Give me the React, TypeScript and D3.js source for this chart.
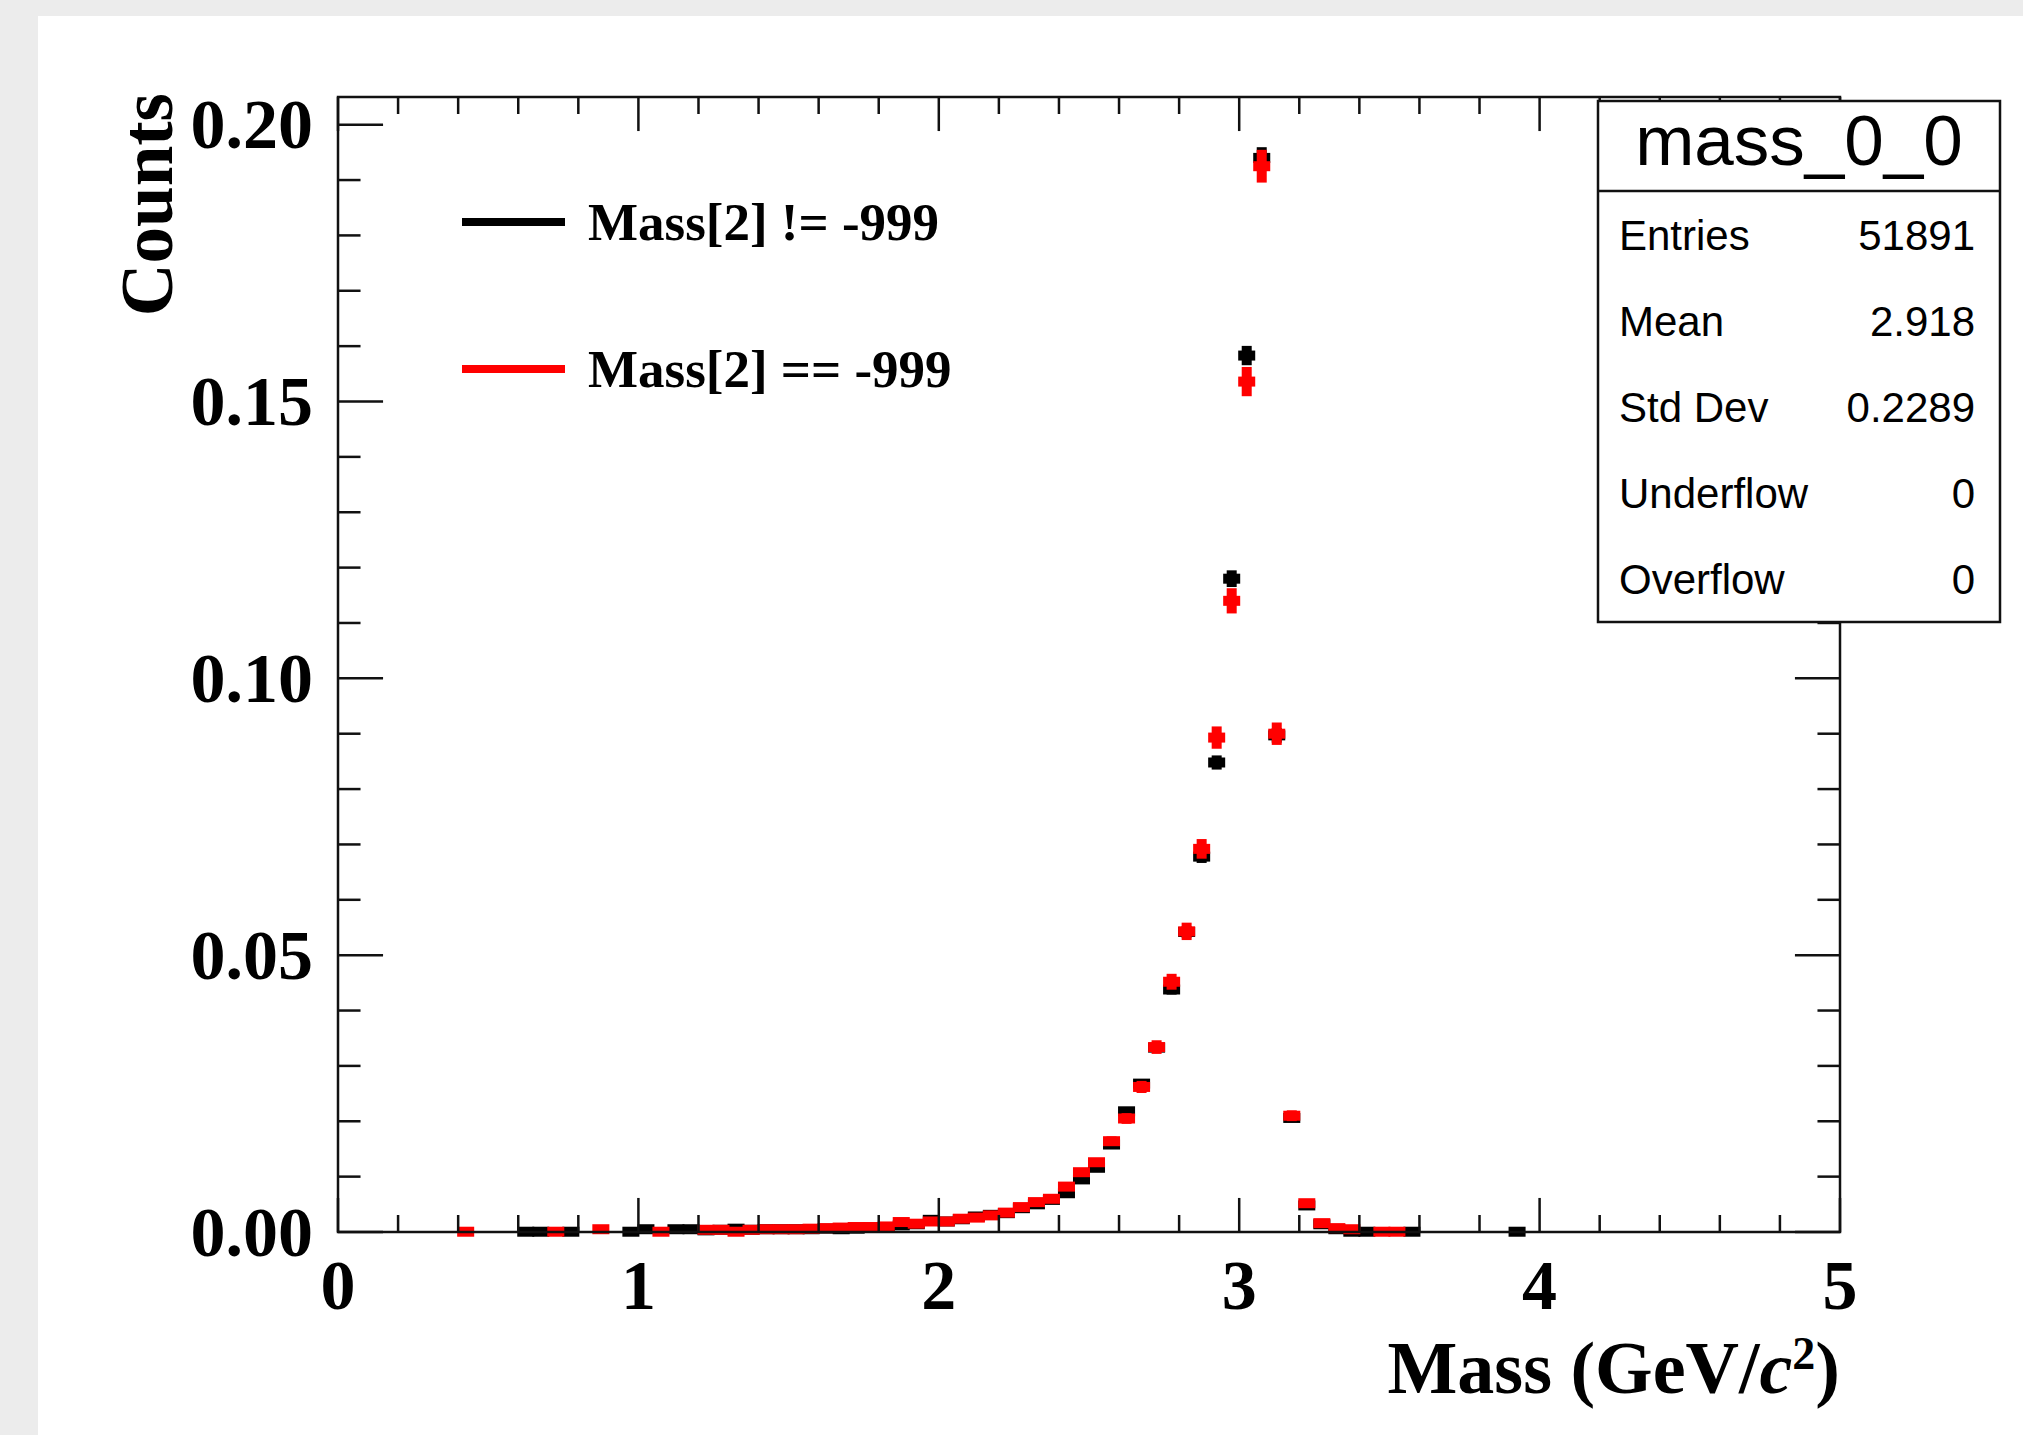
import React from 'react'
import { scaleLinear, format } from 'd3'

// bin centres (GeV/c^2) and normalised contents; bin width 0.05
const blackMass = [
    0.625, 0.675, 0.775, 0.975, 1.025, 1.125, 1.175, 1.225, 1.275, 1.325, 1.375, 1.425,
    1.475, 1.525, 1.575, 1.625, 1.675, 1.725, 1.775, 1.825, 1.875, 1.925, 1.975, 2.025,
    2.075, 2.125, 2.175, 2.225, 2.275, 2.325, 2.375, 2.425, 2.475, 2.525, 2.575, 2.625,
    2.675, 2.725, 2.775, 2.825, 2.875, 2.925, 2.975, 3.025, 3.075, 3.125, 3.175, 3.225,
    3.275, 3.325, 3.375, 3.425, 3.575, 3.925,
]
const blackCounts = [
    0.00005, 0.00005, 0.00005, 0.00005, 0.0005, 0.0005, 0.0005, 0.0003, 0.0004, 0.0006, 0.0004, 0.0005,
    0.0005, 0.0005, 0.0005, 0.0006, 0.0005, 0.0006, 0.0008, 0.0009, 0.0012, 0.0014, 0.0022, 0.0019,
    0.0023, 0.0028, 0.0031, 0.0034, 0.0043, 0.0050, 0.0058, 0.0070, 0.0095, 0.0116, 0.0158, 0.0218,
    0.0268, 0.0333, 0.0438, 0.0542, 0.0678, 0.0848, 0.1180, 0.1583, 0.1940, 0.0897, 0.0206, 0.0048,
    0.0014, 0.0005, 0.00005, 0.00005, 0.00005, 0.00005,
]

const redMass = [
    0.425, 0.725, 0.875, 1.075, 1.225, 1.275, 1.325, 1.375, 1.425, 1.475, 1.525, 1.575,
    1.625, 1.675, 1.725, 1.775, 1.825, 1.875, 1.925, 1.975, 2.025, 2.075, 2.125, 2.175,
    2.225, 2.275, 2.325, 2.375, 2.425, 2.475, 2.525, 2.575, 2.625, 2.675, 2.725, 2.775,
    2.825, 2.875, 2.925, 2.975, 3.025, 3.075, 3.125, 3.175, 3.225, 3.275, 3.325, 3.375,
    3.475, 3.525,
]
const redCounts = [
    0.00005, 0.00005, 0.0005, 0.00005, 0.0004, 0.0004, 0.00005, 0.0004, 0.0005, 0.0005, 0.0005, 0.0006,
    0.0007, 0.0008, 0.0009, 0.0009, 0.0010, 0.0018, 0.0015, 0.0019, 0.0019, 0.0024, 0.0026, 0.0030,
    0.0035, 0.0045, 0.0054, 0.0060, 0.0082, 0.0108, 0.0126, 0.0164, 0.0205, 0.0262, 0.0334, 0.0452,
    0.0543, 0.0692, 0.0893, 0.1140, 0.1536, 0.1925, 0.0900, 0.0210, 0.0052, 0.0016, 0.0007, 0.0005,
    0.00005, 0.00005,
]

// effective entries used for the sqrt(N) error bars
const blackEntries = 51891
const redEntries = 22000
const binWidth = 0.05

const legendLabels = ['Mass[2] != -999', 'Mass[2] == -999']
const statsTitle = 'mass_0_0'
const statsNames = ['Entries', 'Mean', 'Std Dev', 'Underflow', 'Overflow']
const statsValues = ['51891', '2.918', '0.2289', '0', '0']

const W = 2023
const H = 1435
const frame = { left: 338, right: 1840, top: 97, bottom: 1232 }
const serif = '"Liberation Serif", "Times New Roman", serif'
const sans = '"Liberation Sans", Arial, Helvetica, sans-serif'

const App = () => {
    const x = scaleLinear().domain([0, 5]).range([frame.left, frame.right])
    const y = scaleLinear().domain([0, 0.205]).range([frame.bottom, frame.top])

    const xMajor = x.ticks(5)
    const xMinor = x.ticks(25)
    const yMajor = y.ticks(4)
    const yMinor = y.ticks(20)
    const xLen = 0.03 * (frame.bottom - frame.top)
    const yLen = 0.03 * (frame.right - frame.left)

    const series = [
        { mass: blackMass, counts: blackCounts, n: blackEntries, color: '#000000' },
        { mass: redMass, counts: redCounts, n: redEntries, color: '#ff0000' },
    ]

    const drawSeries = (s, si) =>
        s.mass.map((m, i) => {
            const v = s.counts[i]
            const err = Math.sqrt(v / s.n)
            const x0 = x(m - binWidth / 2)
            const x1 = x(m + binWidth / 2)
            const cx = x(m)
            return (
                <g key={`${si}-${i}`} fill={s.color}>
                    <rect x={x0 - 1} width={x1 - x0 + 2} y={y(v) - 5} height={10} />
                    <rect x={cx - 5} width={10} y={y(v + err)} height={y(v - err) - y(v + err)} />
                </g>
            )
        })

    const statsBox = { left: 1598, right: 2000, top: 101, bottom: 622, divider: 191 }

    return (
        <svg
            width={W}
            height={H}
            style={{ position: 'absolute', left: 0, top: 0, display: 'block' }}
        >
            <rect width={W} height={H} fill="#ececec" />
            <rect x={38} y={16} width={W - 38} height={H - 16} fill="#ffffff" />

            {/* data points, black first then red on top */}
            {series.map(drawSeries)}

            {/* frame */}
            <rect
                x={frame.left}
                y={frame.top}
                width={frame.right - frame.left}
                height={frame.bottom - frame.top}
                fill="none"
                stroke="#111"
                strokeWidth={2.5}
            />

            {/* x ticks, bottom and top; y ticks, left and right */}
            <g stroke="#111" strokeWidth={2.5}>
                {xMinor.map(t => {
                    const len = xMajor.some(M => Math.abs(M - t) < 1e-9) ? xLen : xLen / 2
                    return (
                        <g key={`xt${t}`}>
                            <line x1={x(t)} x2={x(t)} y1={frame.bottom} y2={frame.bottom - len} />
                            <line x1={x(t)} x2={x(t)} y1={frame.top} y2={frame.top + len} />
                        </g>
                    )
                })}
                {yMinor.map(t => {
                    const len = yMajor.some(M => Math.abs(M - t) < 1e-9) ? yLen : yLen / 2
                    return (
                        <g key={`yt${t}`}>
                            <line x1={frame.left} x2={frame.left + len} y1={y(t)} y2={y(t)} />
                            <line x1={frame.right} x2={frame.right - len} y1={y(t)} y2={y(t)} />
                        </g>
                    )
                })}
            </g>

            {/* tick labels */}
            <g fontFamily={serif} fontWeight="bold" fontSize={70} fill="#000">
                {xMajor.map(t => (
                    <text key={`xl${t}`} x={x(t)} y={1309} textAnchor="middle">
                        {format('d')(t)}
                    </text>
                ))}
                {yMajor.map(t => (
                    <text key={`yl${t}`} x={313} y={y(t)} dy="0.34em" textAnchor="end">
                        {format('.2f')(t)}
                    </text>
                ))}
            </g>

            {/* axis titles */}
            <text
                x={frame.right}
                y={1393}
                textAnchor="end"
                fontFamily={serif}
                fontWeight="bold"
                fontSize={74}
            >
                Mass (GeV/<tspan fontStyle="italic">c</tspan>
                <tspan fontSize={46} dy={-24}>2</tspan>
                <tspan dy={24}>)</tspan>
            </text>
            <text
                transform="translate(172, 93) rotate(-90)"
                textAnchor="end"
                fontFamily={serif}
                fontWeight="bold"
                fontSize={73}
            >
                Counts
            </text>

            {/* legend */}
            {legendLabels.map((label, i) => {
                const ly = i === 0 ? 222 : 369
                return (
                    <g key={label}>
                        <line
                            x1={462}
                            x2={565}
                            y1={ly}
                            y2={ly}
                            stroke={series[i].color}
                            strokeWidth={8}
                        />
                        <text
                            x={588}
                            y={ly}
                            dy="0.34em"
                            fontFamily={serif}
                            fontWeight="bold"
                            fontSize={53}
                        >
                            {label}
                        </text>
                    </g>
                )
            })}

            {/* stats box */}
            <rect
                x={statsBox.left}
                y={statsBox.top}
                width={statsBox.right - statsBox.left}
                height={statsBox.bottom - statsBox.top}
                fill="#ffffff"
                stroke="#111"
                strokeWidth={2.5}
            />
            <line
                x1={statsBox.left}
                x2={statsBox.right}
                y1={statsBox.divider}
                y2={statsBox.divider}
                stroke="#111"
                strokeWidth={2.5}
            />
            <text
                x={(statsBox.left + statsBox.right) / 2}
                y={165}
                textAnchor="middle"
                fontFamily={sans}
                fontSize={71}
            >
                {statsTitle}
            </text>
            <g fontFamily={sans} fontSize={42}>
                {statsNames.map((name, i) => {
                    const ry = 235 + i * 86
                    return (
                        <g key={name}>
                            <text x={1619} y={ry} dy="0.35em">{name}</text>
                            <text x={1975} y={ry} dy="0.35em" textAnchor="end">
                                {statsValues[i]}
                            </text>
                        </g>
                    )
                })}
            </g>
        </svg>
    )
}

export default App
